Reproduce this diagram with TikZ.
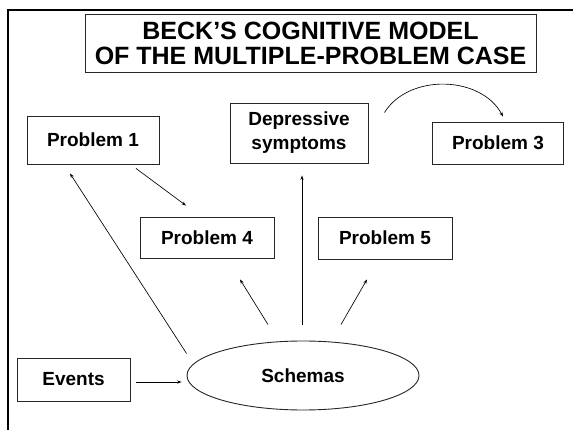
\documentclass[tikz,border=0pt]{standalone}
\usepackage{fontspec}
\setmainfont{Liberation Sans}
\usetikzlibrary{arrows.meta,shapes.geometric}

\begin{document}
\begin{tikzpicture}[x=1pt,y=-1pt,
  box/.style={draw=black!85,line width=0.9pt,inner sep=0pt,align=center,
    font=\fontsize{19}{24}\selectfont\bfseries},
  arr/.style={line width=0.65pt,-{Stealth[length=4.5pt,width=3.2pt]}}]

% Page and frame
\useasboundingbox (0,0) rectangle (573,430);
\draw[line width=2.5pt] (8,430) -- (8,10) -- (573,10);

% Title
\node[box,minimum width=451pt,minimum height=58pt,
      font=\fontsize{25}{25}\selectfont\bfseries] (title) at (310.5,43)
      {BECK’S COGNITIVE MODEL\\OF THE MULTIPLE-PROBLEM CASE};

% Boxes
\node[box,minimum width=132pt,minimum height=48pt] (prob1) at (93,140) {Problem 1};
\node[box,minimum width=138pt,minimum height=60pt] (depr) at (299,133) {Depressive\\symptoms};
\node[box,minimum width=131pt,minimum height=42pt] (prob3) at (498,143) {Problem 3};
\node[box,minimum width=134pt,minimum height=41pt] (prob4) at (207,237.5) {Problem 4};
\node[box,minimum width=134pt,minimum height=42pt] (prob5) at (385,238) {Problem 5};
\node[box,minimum width=113pt,minimum height=43pt] (events) at (73.5,379.5) {Events};
\node[box,ellipse,minimum width=232pt,minimum height=69pt] (schemas) at (303,375.5) {Schemas};

% Arrows
\draw[arr] ([yshift=22pt]schemas.west) -- ([xshift=-23pt,yshift=-9pt]prob1.south);
\draw[arr] ([xshift=43pt,yshift=-4pt]prob1.south) -- ([xshift=-21pt,yshift=11pt]prob4.north);
\draw[arr] ([xshift=-35pt,yshift=16pt]schemas.north) -- ([xshift=33pt,yshift=-21pt]prob4.south);
\draw[arr] ([xshift=-1pt,yshift=16pt]schemas.north) -- ([xshift=3pt,yshift=-12pt]depr.south);
\draw[arr] ([xshift=38pt,yshift=16pt]schemas.north) -- ([xshift=-18pt,yshift=-20pt]prob5.south);
\draw[arr] ([xshift=6pt,yshift=-2.5pt]events.east) -- ([xshift=-5pt,yshift=-6.5pt]schemas.west);

% Curved arrow to Problem 3
\draw[arr] ([xshift=16pt,yshift=-10pt]depr.north east) to[bend left=60]
      ([xshift=5pt,yshift=5pt]prob3.north);

\end{tikzpicture}
\end{document}
